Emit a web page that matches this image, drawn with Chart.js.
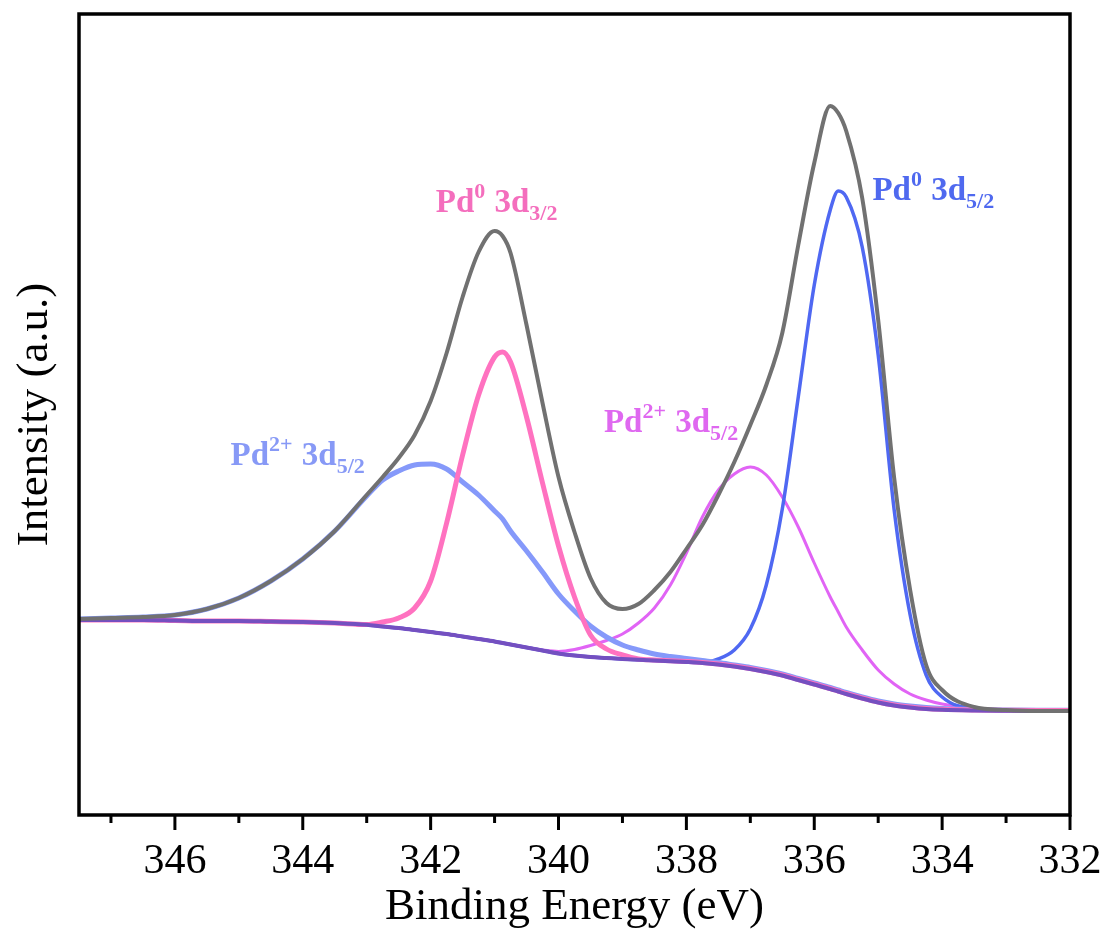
<!DOCTYPE html>
<html>
<head>
<meta charset="utf-8">
<script src="https://cdn.jsdelivr.net/npm/chart.js@4.4.0/dist/chart.umd.min.js"></script>
<style>
  html, body { margin: 0; background: #fff; }
  #wrap { width: 1109px; height: 945px; }
</style>
</head>
<body>
<div id="wrap"><canvas id="xps"></canvas></div>
<script>
// binding energy grid (eV), denser near the peaks
const energy = [347.5, 347, 346.5, 346, 345.5, 345, 344.5, 344, 343.5, 343,
  342.75, 342.5, 342.25, 342, 341.75, 341.5, 341.25, 341, 340.875, 340.75,
  340.5, 340.25, 340, 339.75, 339.5, 339.25, 339, 338.75, 338.5, 338.25,
  338, 337.75, 337.5, 337.25, 337, 336.75, 336.5, 336.25, 336, 335.75,
  335.625, 335.5, 335.25, 335, 334.75, 334.5, 334.25, 334, 333.5, 333, 332.5, 332];

// intensities (a.u.)
const envelope = [196, 197, 198, 200, 206, 217, 234, 256, 284, 320,
  338, 357, 380, 414, 462, 518, 563, 584, 579, 562,
  490, 412, 338, 283, 237, 212, 206, 211, 225, 243,
  266, 290, 320, 353, 390, 430, 482, 570, 652, 709,
  702, 684, 617, 495, 337, 225, 150, 125, 108, 105, 104, 104];

const background = [195, 195, 195, 194.5, 194, 194, 193.5, 193, 192, 190.3,
  188.5, 187, 185, 183, 181, 178.5, 176, 173.5, 172, 170.5,
  167.5, 164.5, 161.5, 159.5, 158, 157, 156, 155.2, 154.5, 153.8,
  153, 152, 150.5, 148.5, 146, 143, 139.5, 135, 130.5, 126,
  123.5, 121, 116.5, 112.5, 109.5, 107.5, 106, 105.2, 104.5, 104.2, 104, 104];

const pd2Left = [196, 197, 198, 200, 206, 217, 234, 256, 284, 319,
  335, 344, 350, 351, 346, 333, 320, 304, 296, 284,
  264, 243, 221, 204, 189, 178, 170, 165, 161, 158.5,
  156.5, 154.5, 152.5, 150, 147.5, 144.5, 141, 136.5, 132, 127.5,
  125, 122.5, 118, 114, 111, 109, 107.5, 106.5, 105.5, 105, 104.8, 104.8];

const pd0d32 = [195, 195, 195, 194.5, 194, 194, 193.5, 193, 192, 190.5,
  193, 197, 207, 234, 292, 360, 420, 458, 463, 453,
  398, 332, 269, 218, 180, 166, 160, 156, 155, 154.3,
  153.5, 152.5, 151, 149, 146.5, 143.5, 140, 135.5, 131, 126.5,
  124, 121.5, 117, 113, 110, 108, 106.5, 105.7, 105, 104.7, 104.5, 104.5];

const pd2Right = [195, 195, 195, 194.5, 194, 194, 193.5, 193, 192, 190.3,
  188.5, 187, 185, 183, 181, 178.5, 176, 173.5, 172, 170.5,
  167.5, 165, 163.5, 165.5, 169.5, 174.5, 181, 192, 207, 230,
  262, 298, 325, 341, 348, 340, 318, 288, 252, 218,
  203, 188, 165, 145, 131, 121, 115, 111, 107, 105, 104.5, 104];

const pd0d52 = [195, 195, 195, 194.5, 194, 194, 193.5, 193, 192, 190.3,
  188.5, 187, 185, 183, 181, 178.5, 176, 173.5, 172, 170.5,
  167.5, 164.5, 161.5, 159.5, 158, 157, 156, 155.2, 154.5, 153.8,
  153, 152.5, 156, 165, 186, 230, 306, 418, 530, 605,
  624, 618, 568, 460, 305, 200, 140, 118, 106, 104.5, 104, 104];

const xTickValues = [346, 344, 342, 340, 338, 336, 334, 332];

const SERIF = "'Liberation Serif', 'Times New Roman', serif";

// peak captions: [text, 'n' | 'sup' | 'sub']
const captions = [
  { x: 341.92, y: 603, color: '#f46ebd', parts: [['Pd', 'n'], ['0', 'sup'], [' 3d', 'n'], ['3/2', 'sub']] },
  { x: 335.09, y: 615, color: '#4f69ef', parts: [['Pd', 'n'], ['0', 'sup'], [' 3d', 'n'], ['5/2', 'sub']] },
  { x: 345.13, y: 350, color: '#8799f6', parts: [['Pd', 'n'], ['2+', 'sup'], [' 3d', 'n'], ['5/2', 'sub']] },
  { x: 339.29, y: 383, color: '#df68f0', parts: [['Pd', 'n'], ['2+', 'sup'], [' 3d', 'n'], ['5/2', 'sub']] }
];

function toPoints(vals) {
  return vals.map((v, i) => ({ x: energy[i], y: v }));
}

function line(label, vals, color, width, order) {
  return {
    label, data: toPoints(vals), borderColor: color, borderWidth: width,
    pointRadius: 0, fill: false, cubicInterpolationMode: 'monotone', order
  };
}

const frame = {
  id: 'frame',
  afterDraw(chart) {
    const { ctx, chartArea: a, scales: { x, y } } = chart;
    ctx.save();
    ctx.strokeStyle = '#000';
    ctx.lineWidth = 3.5;
    ctx.strokeRect(a.left, a.top, a.right - a.left, a.bottom - a.top);

    // major / minor ticks, pointing out
    ctx.lineWidth = 3;
    x.ticks.forEach(t => {
      if (!Number.isInteger(t.value)) return;
      const px = x.getPixelForValue(t.value);
      const len = xTickValues.includes(t.value) ? 15 : 8;
      ctx.beginPath();
      ctx.moveTo(px, a.bottom);
      ctx.lineTo(px, a.bottom + len);
      ctx.stroke();
    });

    // captions
    ctx.textBaseline = 'alphabetic';
    ctx.textAlign = 'left';
    captions.forEach(c => {
      let px = x.getPixelForValue(c.x);
      const base = y.getPixelForValue(c.y);
      ctx.fillStyle = c.color;
      c.parts.forEach(([txt, kind]) => {
        const size = kind === 'n' ? 33 : 22;
        const dy = kind === 'sup' ? -14 : kind === 'sub' ? 8 : 0;
        ctx.font = `bold ${size}px ${SERIF}`;
        ctx.fillText(txt, px, base + dy);
        px += ctx.measureText(txt).width + (kind === 'sup' ? 1 : 0);
      });
    });
    ctx.restore();
  }
};

new Chart(document.getElementById('xps'), {
  type: 'line',
  data: {
    datasets: [
      line('Envelope', envelope, '#717171', 4, 0),
      line('Background', background, '#7450c0', 4, 1),
      line('Pd0 3d3/2', pd0d32, '#ff72c0', 5, 2),
      line('Pd2+ 3d5/2 (a)', pd2Left, '#8599fa', 5, 3),
      line('Pd0 3d5/2', pd0d52, '#4f68f2', 3.5, 4),
      line('Pd2+ 3d5/2 (b)', pd2Right, '#e164f5', 3, 5)
    ]
  },
  options: {
    responsive: true,
    maintainAspectRatio: false,
    animation: false,
    layout: { padding: { top: 14, right: 39, left: 0, bottom: 0 } },
    plugins: { legend: { display: false }, tooltip: { enabled: false } },
    scales: {
      x: {
        type: 'linear', min: 332, max: 347.5, reverse: true,
        afterFit: s => { s.height = 130; s.paddingLeft = 0; s.paddingRight = 0; },
        grid: { display: false, drawTicks: false },
        border: { display: false },
        ticks: {
          stepSize: 1, includeBounds: false, autoSkip: false, maxRotation: 0,
          padding: 22, color: '#000',
          font: { family: SERIF, size: 42 },
          callback: v => xTickValues.includes(v) ? String(v) : ''
        },
        title: {
          display: true, text: 'Binding Energy (eV)', color: '#000',
          font: { family: SERIF, size: 45 }, padding: { top: 0, bottom: 11 }
        }
      },
      y: {
        min: 0, max: 801,
        afterFit: s => { s.width = 79; },
        grid: { display: false, drawTicks: false },
        border: { display: false },
        ticks: { display: false },
        title: {
          display: true, text: 'Intensity (a.u.)', color: '#000',
          font: { family: SERIF, size: 45 }, padding: { top: 8, bottom: 0 }
        }
      }
    }
  },
  plugins: [frame]
});
</script>
</body>
</html>
